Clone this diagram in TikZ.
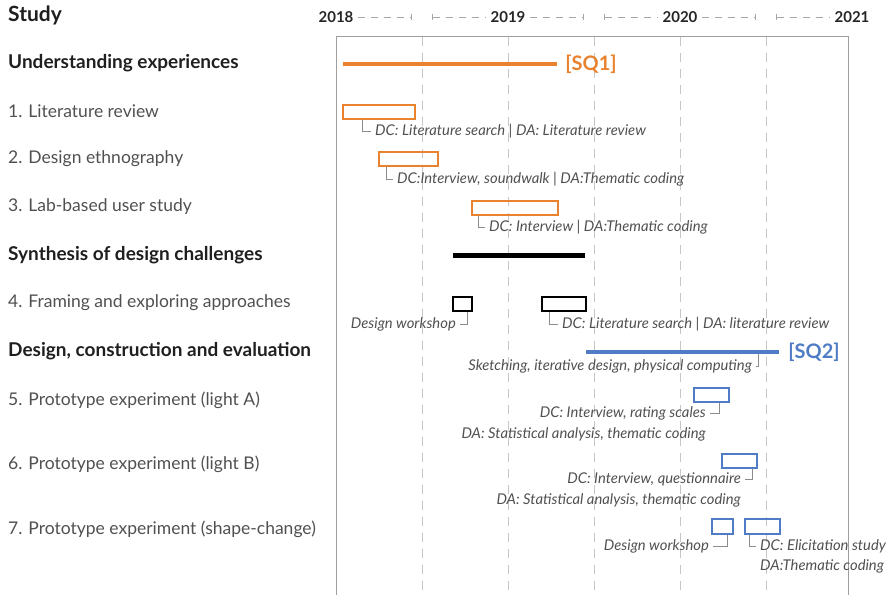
\documentclass[tikz,border=0pt]{standalone}
\usepackage{fontspec}
\setmainfont{Lato}
\usepackage{xcolor}
\definecolor{sqorange}{HTML}{E8822F}
\definecolor{sqblue}{HTML}{4F7CC4}
\definecolor{txtgrey}{HTML}{505050}
\usetikzlibrary{positioning,arrows.meta}

\tikzset{
  heading/.style={anchor=west, inner sep=0pt, text=black!88, font=\bfseries\fontsize{19}{21}\selectfont},
  studyrow/.style={anchor=west, inner sep=0pt, text=txtgrey, font=\fontsize{17.5}{20}\selectfont},
  yearlbl/.style={inner sep=0pt, text=black!85, font=\bfseries\fontsize{15}{17}\selectfont},
  note/.style={inner sep=0pt, text=txtgrey, font=\itshape\fontsize{14.8}{17}\selectfont},
  task/.style={draw=#1, line width=1.5pt, minimum height=14pt, inner sep=0pt},
  phase/.style={fill=#1, minimum height=4.5pt, inner sep=0pt},
  sqlbl/.style={text=#1, inner sep=0pt, font=\bfseries\fontsize{20}{22}\selectfont},
  bracket/.style={draw=gray!90, line width=0.8pt},
  hdash/.style={draw=gray!70, line width=0.7pt, dash pattern=on 7pt off 6pt},
}

\begin{document}
\begin{tikzpicture}[x=1pt,y=-1pt]
  \useasboundingbox (0,0) rectangle (890,594);

  % Grid and frame
  \foreach \gx in {422,508,594,680,766}
    \draw[gray!45, line width=0.8pt, dash pattern=on 9pt off 7pt] (\gx,37) -- (\gx,594);
  \draw[gray!75, line width=1pt] (336,600) -- (336,37) -- (848,37) -- (848,600);

  % Header
  \node[anchor=west, inner sep=0pt, text=black!88, font=\bfseries\fontsize{21}{23}\selectfont] (study) at (8,15) {Study};
  \node[yearlbl] (y2018) at (336,17) {2018};
  \node[yearlbl] (y2019) at (508,17) {2019};
  \node[yearlbl] (y2020) at (680,17) {2020};
  \node[yearlbl] (y2021) at (852,17) {2021};
  \coordinate (h18) at (422,17);
  \coordinate (h19) at (594,17);
  \coordinate (h20) at (766,17);
  \draw[hdash, -{Bar[width=6pt]}] ([xshift=4pt]y2018.east) -- ([xshift=-10pt]h18);
  \draw[hdash, {Bar[width=6pt]}-] ([xshift=10pt]h18) -- ([xshift=-4pt]y2019.west);
  \draw[hdash, -{Bar[width=6pt]}] ([xshift=4pt]y2019.east) -- ([xshift=-10pt]h19);
  \draw[hdash, {Bar[width=6pt]}-] ([xshift=10pt]h19) -- ([xshift=-4pt]y2020.west);
  \draw[hdash, -{Bar[width=6pt]}] ([xshift=4pt]y2020.east) -- ([xshift=-10pt]h20);
  \draw[hdash, {Bar[width=6pt]}-] ([xshift=10pt]h20) -- ([xshift=-4pt]y2021.west);

  % Left column
  \node[heading]  (hUnd) at (8,63)  {Understanding experiences};
  \node[studyrow] (s1)   at (8,111) {1. Literature review};
  \node[studyrow] (s2)   at (8,159) {2. Design ethnography};
  \node[studyrow] (s3)   at (8,207) {3. Lab-based user study};
  \node[heading]  (hSyn) at (8,255) {Synthesis of design challenges};
  \node[studyrow] (s4)   at (8,303) {4. Framing and exploring approaches};
  \node[heading]  (hDes) at (8,351) {Design, construction and evaluation};
  \node[studyrow] (s5)   at (8,400) {5. Prototype experiment (light A)};
  \node[studyrow] (s6)   at (8,464) {6. Prototype experiment (light B)};
  \node[studyrow] (s7)   at (8,529) {7. Prototype experiment (shape-change)};

  % Phases
  \node[phase=sqorange, minimum width=214pt] (pUnd) at (450,64) {};
  \node[sqlbl=sqorange, right=8pt of pUnd] (sq1) {[SQ1]};
  \node[phase=black, minimum width=132pt, minimum height=5pt] (pSyn) at (519,255) {};
  \node[phase=sqblue, minimum width=193pt] (pDes) at (682.5,352) {};
  \node[sqlbl=sqblue, right=9pt of pDes] (sq2) {[SQ2]};

  % Understanding experiences
  \node[task=sqorange, minimum width=72pt] (b1) at (379,112) {};
  \node[note, anchor=west] (n1) at (375,131) {DC: Literature search | DA: Literature review};
  \draw[bracket] ([xshift=20pt]b1.south west) |- ([xshift=-4pt]n1.west);

  \node[task=sqorange, minimum width=59pt] (b2) at (408.5,159) {};
  \node[note, anchor=west] (n2) at (397,179) {DC:Interview, soundwalk | DA:Thematic coding};
  \draw[bracket] ([xshift=8pt]b2.south west) |- ([xshift=-4pt]n2.west);

  \node[task=sqorange, minimum width=86pt] (b3) at (515,208) {};
  \node[note, anchor=west] (n3) at (489,227) {DC: Interview | DA:Thematic coding};
  \draw[bracket] ([xshift=7pt]b3.south west) |- ([xshift=-4pt]n3.west);

  % Synthesis of design challenges
  \node[task=black, minimum width=19pt] (b4a) at (462.5,304) {};
  \node[note, anchor=east] (n4a) at (456,324) {Design workshop};
  \draw[bracket] ([xshift=-5pt]b4a.south east) |- ([xshift=4pt]n4a.east);

  \node[task=black, minimum width=44pt] (b4b) at (564,304) {};
  \node[note, anchor=west] (n4b) at (562,324) {DC: Literature search | DA: literature review};
  \draw[bracket] ([xshift=8pt]b4b.south west) |- ([xshift=-4pt]n4b.west);

  % Design, construction and evaluation
  \node[note, anchor=east] (nSk) at (752,366) {Sketching, iterative design, physical computing};
  \draw[bracket] ([xshift=-21pt]pDes.south east) |- ([xshift=4pt]nSk.east);

  \node[task=sqblue, minimum width=35pt] (b5) at (711.5,395) {};
  \node[note, anchor=east] (n5) at (706,413) {DC: Interview, rating scales};
  \node[note, anchor=east] (n5b) at (706,434) {DA: Statistical analysis, thematic coding};
  \draw[bracket] ([xshift=-10pt]b5.south east) |- ([xshift=4pt]n5.east);

  \node[task=sqblue, minimum width=35pt] (b6) at (739.5,461) {};
  \node[note, anchor=east] (n6) at (741,479) {DC: Interview, questionnaire};
  \node[note, anchor=east] (n6b) at (741,500) {DA: Statistical analysis, thematic coding};
  \draw[bracket] ([xshift=-5pt]b6.south east) |- ([xshift=4pt]n6.east);

  \node[task=sqblue, minimum width=21pt, minimum height=15pt] (b7a) at (722.5,526.5) {};
  \node[note, anchor=east] (n7a) at (709,546) {Design workshop};
  \draw[bracket] ([xshift=-6pt]b7a.south east) |- ([xshift=4pt]n7a.east);

  \node[task=sqblue, minimum width=35pt, minimum height=15pt] (b7b) at (762.5,526.5) {};
  \node[note, anchor=west] (n7b) at (760,546) {DC: Elicitation study};
  \node[note, anchor=west] (n7c) at (760,566) {DA:Thematic coding};
  \draw[bracket] ([xshift=5pt]b7b.south west) |- ([xshift=-4pt]n7b.west);
\end{tikzpicture}
\end{document}
